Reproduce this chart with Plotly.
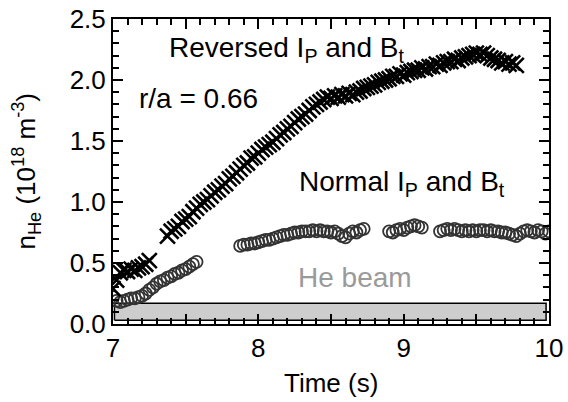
import plotly.graph_objects as go

# Reversed Ip and Bt (x markers)
rev_t = [7.000, 7.025, 7.050, 7.075, 7.100, 7.125, 7.150, 7.175, 7.200, 7.225, 7.250,
         7.375, 7.400, 7.425, 7.450, 7.475, 7.500, 7.525, 7.550, 7.575, 7.600, 7.625,
         7.650, 7.675, 7.700, 7.725, 7.750, 7.775, 7.800, 7.825, 7.850, 7.875, 7.900,
         7.925, 7.950, 7.975, 8.000, 8.025, 8.050, 8.075, 8.100, 8.125, 8.150, 8.175,
         8.200, 8.225, 8.250, 8.275, 8.300, 8.325, 8.350, 8.375, 8.400, 8.425, 8.450,
         8.475, 8.500, 8.525, 8.550, 8.575, 8.600, 8.625, 8.650, 8.675, 8.700, 8.725,
         8.750, 8.775, 8.800, 8.825, 8.850, 8.875, 8.900, 8.925, 8.950, 8.975, 9.000,
         9.025, 9.050, 9.075, 9.100, 9.125, 9.150, 9.175, 9.200, 9.225, 9.250, 9.275,
         9.300, 9.325, 9.350, 9.375, 9.400, 9.425, 9.450, 9.475, 9.500, 9.525, 9.550,
         9.575, 9.600, 9.625, 9.650, 9.675, 9.700, 9.725, 9.750, 9.775]
rev_n = [0.29, 0.36, 0.42, 0.44, 0.43, 0.45, 0.44, 0.46, 0.47, 0.49, 0.52,
         0.72, 0.76, 0.78, 0.80, 0.84, 0.86, 0.88, 0.92, 0.95, 0.98, 1.00,
         1.02, 1.05, 1.08, 1.10, 1.13, 1.15, 1.19, 1.21, 1.24, 1.27, 1.30,
         1.32, 1.36, 1.37, 1.40, 1.43, 1.45, 1.47, 1.49, 1.52, 1.55, 1.57,
         1.60, 1.62, 1.65, 1.68, 1.70, 1.72, 1.75, 1.78, 1.80, 1.82, 1.84,
         1.86, 1.85, 1.87, 1.86, 1.88, 1.87, 1.89, 1.88, 1.90, 1.91, 1.93,
         1.94, 1.95, 1.96, 1.98, 1.99, 2.00, 2.01, 2.03, 2.03, 2.05, 2.04,
         2.06, 2.07, 2.08, 2.08, 2.10, 2.09, 2.11, 2.11, 2.13, 2.12, 2.14,
         2.15, 2.15, 2.17, 2.16, 2.18, 2.19, 2.20, 2.21, 2.22, 2.21, 2.22,
         2.20, 2.18, 2.17, 2.16, 2.14, 2.15, 2.13, 2.14, 2.12]

# Normal Ip and Bt (open circles)
nor_t = [7.000, 7.025, 7.050, 7.075, 7.100, 7.125, 7.150, 7.175, 7.200, 7.225, 7.250,
         7.275, 7.300, 7.325, 7.350, 7.375, 7.400, 7.425, 7.450, 7.475, 7.500, 7.525,
         7.550, 7.575,
         7.875, 7.900, 7.925, 7.950, 7.975, 8.000, 8.025, 8.050, 8.075, 8.100, 8.125,
         8.150, 8.175, 8.200, 8.225, 8.250, 8.275, 8.300, 8.325, 8.350, 8.375, 8.400,
         8.425, 8.450, 8.475, 8.500, 8.525, 8.550, 8.575, 8.600, 8.625, 8.650, 8.675,
         8.700, 8.725,
         8.900, 8.925, 8.950, 8.975, 9.000, 9.025, 9.050, 9.075, 9.100, 9.125,
         9.250, 9.275, 9.300, 9.325, 9.350, 9.375, 9.400, 9.425, 9.450, 9.475, 9.500,
         9.525, 9.550, 9.575, 9.600, 9.625, 9.650, 9.675, 9.700, 9.725, 9.750, 9.775,
         9.800, 9.825, 9.850, 9.875, 9.900, 9.925, 9.950, 9.975, 10.000]
nor_n = [0.22, 0.19, 0.18, 0.19, 0.20, 0.21, 0.21, 0.22, 0.23, 0.25, 0.28,
         0.30, 0.33, 0.35, 0.36, 0.38, 0.39, 0.41, 0.42, 0.44, 0.45, 0.47,
         0.49, 0.51,
         0.64, 0.65, 0.65, 0.66, 0.66, 0.67, 0.68, 0.69, 0.69, 0.70, 0.71,
         0.72, 0.73, 0.73, 0.74, 0.75, 0.75, 0.76, 0.76, 0.76, 0.77, 0.76,
         0.77, 0.76, 0.76, 0.75, 0.76, 0.74, 0.72, 0.71, 0.74, 0.76, 0.75,
         0.77, 0.78,
         0.76, 0.75, 0.77, 0.78, 0.77, 0.79, 0.80, 0.81, 0.80, 0.79,
         0.76, 0.77, 0.78, 0.77, 0.78, 0.77, 0.76, 0.77, 0.76, 0.77, 0.76,
         0.77, 0.77, 0.76, 0.77, 0.76, 0.76, 0.75, 0.75, 0.74, 0.73, 0.72,
         0.74, 0.76, 0.77, 0.76, 0.75, 0.77, 0.76, 0.74, 0.76]

# He beam interval
beam_t = [7.01, 9.98]
beam_n = [0.03, 0.17]

x_tickvals = [7, 7.5, 8, 8.5, 9, 9.5, 10]
x_ticktext = ["7", "", "8", "", "9", "", "10"]
y_tickvals = [0.0, 0.5, 1.0, 1.5, 2.0, 2.5]
y_ticktext = ["0.0", "0.5", "1.0", "1.5", "2.0", "2.5"]

FONT = "Liberation Sans, Arial, sans-serif"
FS = 26
FA = 28

fig = go.Figure()
# He beam band drawn as a filled scatter polygon (data coordinates from beam_t / beam_n)
fig.add_trace(go.Scatter(x=[beam_t[0], beam_t[1], beam_t[1], beam_t[0], beam_t[0]],
                         y=[beam_n[0], beam_n[0], beam_n[1], beam_n[1], beam_n[0]],
                         mode="lines", fill="toself", fillcolor="#cdcdcd",
                         line=dict(color="black", width=1.5), hoverinfo="skip"))

fig.add_trace(go.Scatter(x=nor_t, y=nor_n, mode="markers",
                         marker=dict(symbol="circle-open", size=12,
                                     color="#333333", line=dict(width=1.8))))
fig.add_trace(go.Scatter(x=rev_t, y=rev_n, mode="markers",
                         marker=dict(symbol="x-thin-open", size=15,
                                     color="black", line=dict(width=2.6, color="black"))))

ann = [
    dict(text="Reversed I<sub>P</sub> and B<sub>t</sub>", x=167, y=49, color="black"),
    dict(text="r/a = 0.66", x=137, y=99, color="black"),
    dict(text="Normal I<sub>P</sub> and B<sub>t</sub>", x=297, y=184, color="black"),
    dict(text="He beam", x=296, y=277, color="#9a9a9a"),
]
L, R, T, B = 113, 549, 19, 324
for a in ann:
    fig.add_annotation(text=a["text"], xref="paper", yref="paper",
                       x=(a["x"] - L) / (R - L), y=(B - a["y"]) / (B - T),
                       xanchor="left", yanchor="middle", showarrow=False,
                       font=dict(family=FONT, size=FA, color=a["color"]))

fig.add_annotation(text="Time (s)", xref="paper", yref="paper",
                   x=0.5, y=(B - 383) / (B - T), xanchor="center", yanchor="middle",
                   showarrow=False, font=dict(family=FONT, size=FS, color="black"))
fig.add_annotation(text="n<sub>He</sub> (10<sup>18</sup> m<sup>-3</sup>)",
                   xref="paper", yref="paper", textangle=-90,
                   x=(26 - L) / (R - L), y=0.5, xanchor="center", yanchor="middle",
                   showarrow=False, font=dict(family=FONT, size=FS, color="black"))

axis_common = dict(showgrid=False, zeroline=False,
                   showline=True, linecolor="black",
                   linewidth=2, mirror="ticks", ticks="inside", ticklen=10,
                   tickwidth=2.2, tickcolor="black",
                   tickfont=dict(family=FONT, size=FS, color="black"))
fig.update_xaxes(range=[7, 10], tickvals=x_tickvals, ticktext=x_ticktext,
                 minor=dict(dtick=0.1, ticks="inside", ticklen=6, tickwidth=2,
                            tickcolor="black"),
                 **axis_common)
fig.update_yaxes(range=[0, 2.5], tickvals=y_tickvals, ticktext=y_ticktext,
                 minor=dict(dtick=0.1, ticks="inside", ticklen=6, tickwidth=2,
                            tickcolor="black"),
                 **axis_common)

fig.update_layout(width=568, height=402, showlegend=False,
                  margin=dict(l=L, r=568 - R, t=T, b=402 - B, autoexpand=False),
                  plot_bgcolor="white", paper_bgcolor="white",
                  font=dict(family=FONT, size=FS, color="black"))

fig.write_html("out.html", config={"displayModeBar": False},
               post_script="document.body.style.margin='0px';"
                           "document.body.style.overflow='hidden';")
